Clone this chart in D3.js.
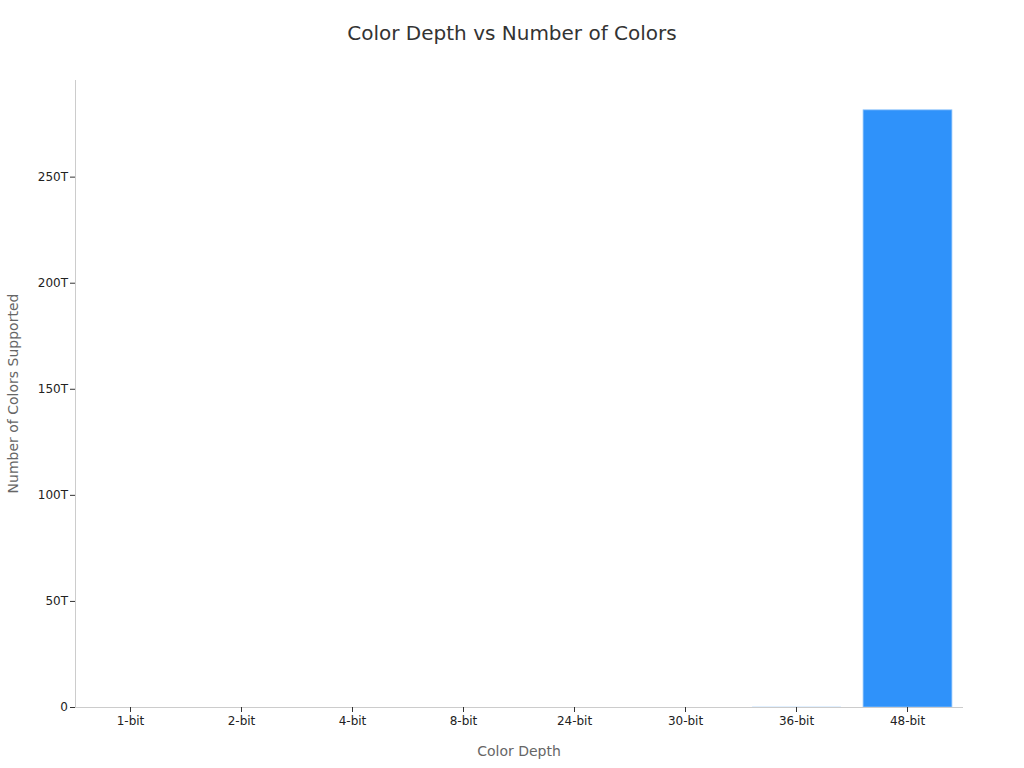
<!DOCTYPE html>
<html>
<head>
<meta charset="utf-8">
<script src="https://cdn.jsdelivr.net/npm/d3@7"></script>
<style>
    body { margin: 0; background: #fff; font-family: "DejaVu Sans", sans-serif; }
    .axis path { display: none; }
    .axis line { stroke: #333; }
    .axis text { fill: #222; font-size: 12px; font-family: "DejaVu Sans", sans-serif; }
</style>
</head>
<body>
<div id="chart"></div>
<script>
// Data
const depths = ['1-bit', '2-bit', '4-bit', '8-bit', '24-bit', '30-bit', '36-bit', '48-bit'];
const colorCounts = [2, 4, 16, 256, 16777216, 1073741824, 68719476736, 281474976710656];
const yTicks = [0, 50e12, 100e12, 150e12, 200e12, 250e12];

const width = 1024;
const height = 768;
const margin = {top: 80, right: 61, bottom: 61, left: 75};

const svg = d3.select('#chart')
    .append('svg')
    .attr('width', width)
    .attr('height', height);

// Scales
const x = d3.scaleBand()
    .domain(depths)
    .range([margin.left, width - margin.right])
    .paddingInner(0.2)
    .paddingOuter(0.1);

const y = d3.scaleLinear()
    .domain([0, d3.max(colorCounts) * 1.05])
    .range([height - margin.bottom, margin.top]);

// Title
svg.append('text')
    .attr('x', width / 2)
    .attr('y', 40)
    .attr('text-anchor', 'middle')
    .style('font-size', '20px')
    .style('fill', '#333')
    .text('Color Depth vs Number of Colors');

// Bars
svg.selectAll('rect.bar')
    .data(depths.map((d, i) => ({depth: d, count: colorCounts[i]})))
    .enter()
    .append('rect')
    .attr('class', 'bar')
    .attr('x', d => x(d.depth))
    .attr('y', d => y(d.count))
    .attr('width', x.bandwidth())
    .attr('height', d => y(0) - y(d.count))
    .attr('fill', '#2f92fa')
    .attr('stroke', d => (y(0) - y(d.count)) > 2 ? '#8cc2fb' : 'none')
    .attr('stroke-width', 0.8);

// Axis spines
svg.append('line')
    .attr('x1', margin.left + 0.5).attr('x2', margin.left + 0.5)
    .attr('y1', margin.top).attr('y2', height - margin.bottom)
    .attr('stroke', '#ccc');

svg.append('line')
    .attr('x1', margin.left).attr('x2', width - margin.right)
    .attr('y1', height - margin.bottom + 0.5).attr('y2', height - margin.bottom + 0.5)
    .attr('stroke', '#ccc');

// Axes
svg.append('g')
    .attr('class', 'axis')
    .attr('transform', `translate(0,${height - margin.bottom})`)
    .call(d3.axisBottom(x).tickSizeOuter(0).tickSize(5).tickPadding(4));

svg.append('g')
    .attr('class', 'axis')
    .attr('transform', `translate(${margin.left},0)`)
    .call(d3.axisLeft(y).tickValues(yTicks).tickFormat(d3.format('~s')).tickSizeOuter(0).tickSize(5).tickPadding(2));

// Axis titles
svg.append('text')
    .attr('x', (margin.left + width - margin.right) / 2)
    .attr('y', 756)
    .attr('text-anchor', 'middle')
    .style('font-size', '14px')
    .style('fill', '#666')
    .text('Color Depth');

svg.append('text')
    .attr('transform', `translate(18,${(margin.top + height - margin.bottom) / 2}) rotate(-90)`)
    .attr('text-anchor', 'middle')
    .style('font-size', '14px')
    .style('fill', '#666')
    .text('Number of Colors Supported');
</script>
</body>
</html>
